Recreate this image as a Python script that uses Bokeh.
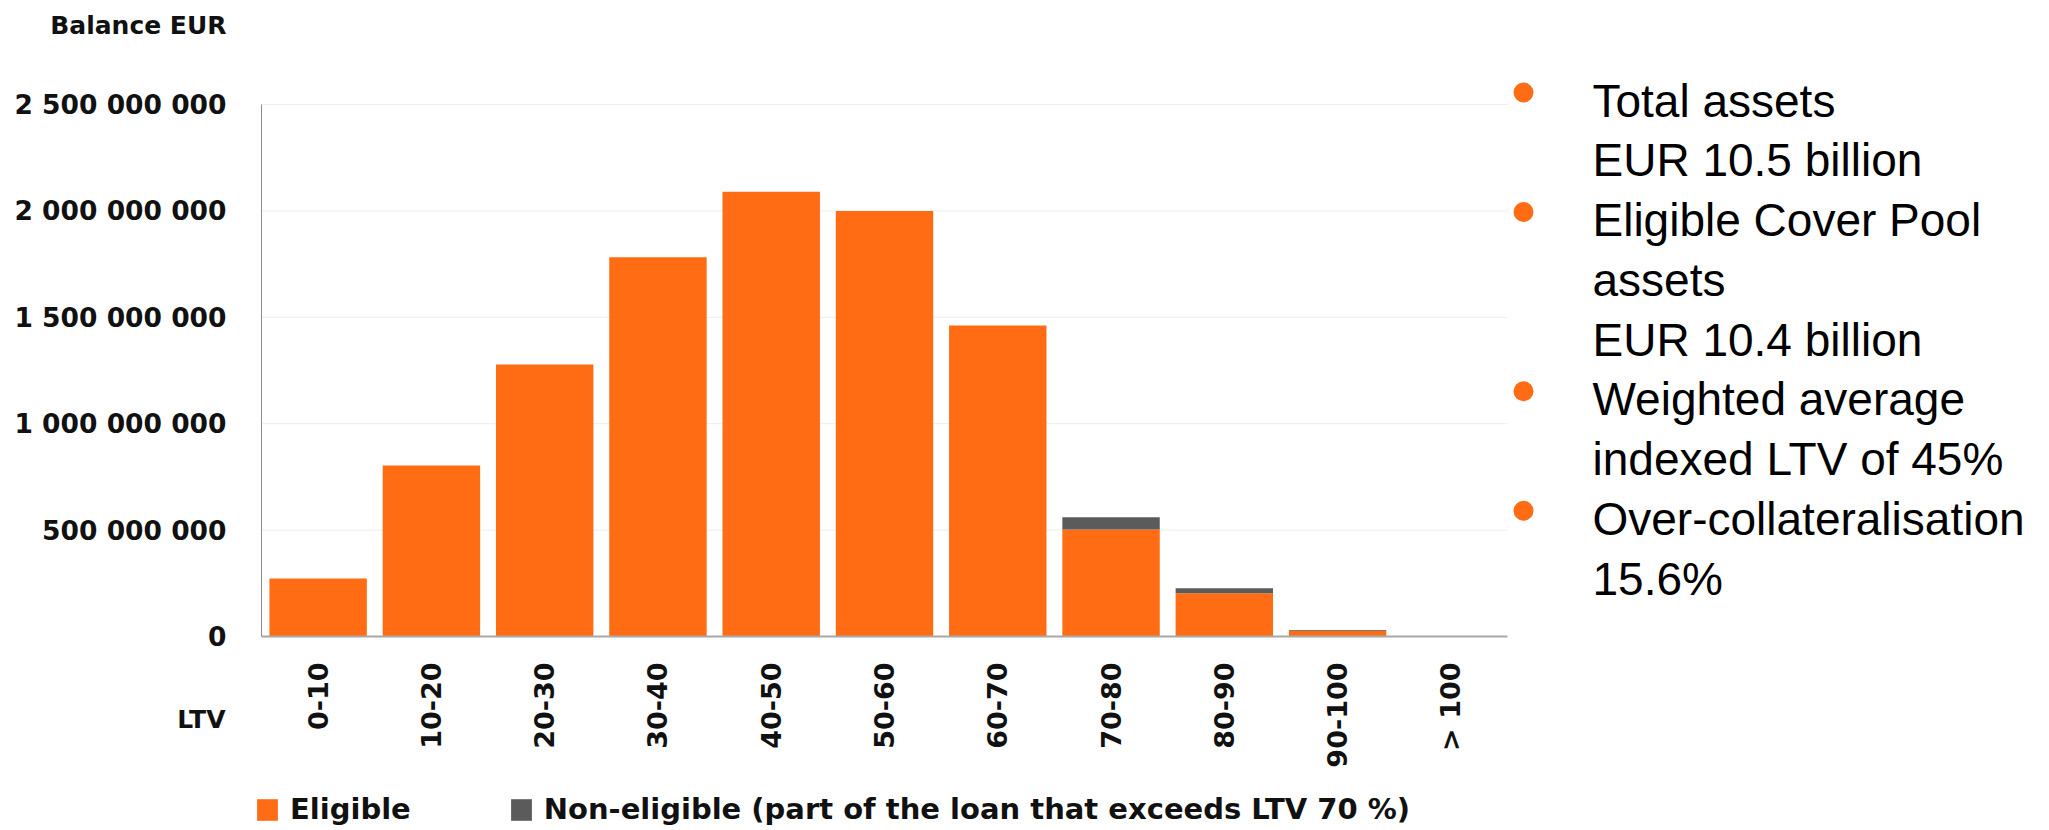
import math
from bokeh.plotting import figure
from bokeh.models import (ColumnDataSource, Range1d, FixedTicker, LinearAxis,
                          Legend, LegendItem)
from bokeh.embed import file_html
from bokeh.resources import INLINE
from bokeh.core.properties import value

# ---------------- data ----------------
ltv_bands = ["0-10", "10-20", "20-30", "30-40", "40-50", "50-60",
             "60-70", "70-80", "80-90", "90-100", "> 100"]
eligible = [273e6, 803e6, 1278e6, 1782e6, 2090e6, 2000e6,
            1462e6, 503e6, 203e6, 27e6, 0]
non_eligible = [0, 0, 0, 0, 0, 0, 0, 57e6, 24e6, 3e6, 0]
y_ticks = [0, 500000000, 1000000000, 1500000000, 2000000000, 2500000000]
y_tick_labels = ["0", "500 000 000", "1 000 000 000", "1 500 000 000",
                 "2 000 000 000", "2 500 000 000"]
y_title = "Balance EUR"
x_title = "LTV"
series_names = ["Eligible",
                "Non-eligible (part of the loan that exceeds LTV 70 %)"]
series_colors = ["#FF6C13", "#5B5B5B"]
summary_lines = ["Total assets", "EUR 10.5 billion", "Eligible Cover Pool",
                 "assets", "EUR 10.4 billion", "Weighted average",
                 "indexed LTV of 45%", "Over-collateralisation", "15.6%"]
bullet_lines = [0, 2, 5, 7]

# ---------------- layout constants (canvas pixels) ----------------
W, H = 2040, 828
FL, FR, FT, FB = 261, 1507, 104, 636     # bar-area box inside the canvas
n = len(ltv_bands)
SW = (FR - FL) / n                       # px per category slot
YMAX = y_ticks[-1]
VPP = YMAX / (FB - FT)                   # value per px
AX_FONT = "DejaVu Sans"
TXT = "#111111"
ORANGE = series_colors[0]

p = figure(width=W, height=H, title=None,
           x_range=Range1d(-FL / SW, (W - FL) / SW),
           y_range=Range1d(-(H - FB) * VPP, YMAX + FT * VPP),
           x_axis_location=None, y_axis_location=None,
           output_backend="svg", toolbar_location=None, min_border=0)
p.outline_line_color = None
p.grid.visible = False
p.extra_x_ranges = {"px": Range1d(0, W)}
p.extra_y_ranges = {"px": Range1d(H, 0)}

x_centers = [i + 0.5 for i in range(n)]

# light horizontal grid lines across the bar area only
p.segment(x0=[0] * (len(y_ticks) - 1), x1=[n] * (len(y_ticks) - 1),
          y0=y_ticks[1:], y1=y_ticks[1:], line_color="#EDEDED",
          line_width=1, level="underlay")

src = ColumnDataSource(dict(x=x_centers, eligible=eligible,
                            non_eligible=non_eligible))
rs = p.vbar_stack(["eligible", "non_eligible"], x="x", width=0.86,
                  fill_color=series_colors, line_color=None, source=src)

# y axis
yaxis = LinearAxis(fixed_location=0, bounds=(0, YMAX),
                   ticker=FixedTicker(ticks=y_ticks),
                   major_label_overrides={t: l for t, l in zip(y_ticks, y_tick_labels)},
                   axis_line_color="#8C8C8C", axis_line_width=1,
                   major_tick_out=0, major_tick_in=0,
                   minor_tick_out=0, minor_tick_in=0,
                   major_label_standoff=35,
                   major_label_text_font=AX_FONT,
                   major_label_text_font_style="bold",
                   major_label_text_font_size="26.5px",
                   major_label_text_color=TXT)
p.add_layout(yaxis, "left")

# x axis
xaxis = LinearAxis(fixed_location=0, bounds=(0, n),
                   ticker=FixedTicker(ticks=x_centers),
                   major_label_overrides={c: l for c, l in zip(x_centers, ltv_bands)},
                   axis_line_color="#A8A8A8", axis_line_width=2,
                   major_tick_out=0, major_tick_in=0,
                   minor_tick_out=0, minor_tick_in=0,
                   major_label_standoff=26,
                   major_label_orientation=math.pi / 2,
                   major_label_text_font=AX_FONT,
                   major_label_text_font_style="bold",
                   major_label_text_font_size="27px",
                   major_label_text_color=TXT)
p.add_layout(xaxis, "below")

# axis titles
p.text(x=[FL - 35, FL - 36], y=[25, 719], text=[y_title, x_title],
       x_range_name="px", y_range_name="px",
       text_align="right", text_baseline="middle",
       text_font=value(AX_FONT), text_font_style="bold",
       text_font_size=value("25px"), text_color=TXT)

# legend
legend = Legend(items=[LegendItem(label=series_names[0], renderers=[rs[0]]),
                       LegendItem(label=series_names[1], renderers=[rs[1]])],
                location=(FL - 7, H - 826), orientation="horizontal",
                padding=0, margin=0, spacing=97, label_standoff=10,
                glyph_width=26, glyph_height=27, label_height=27,
                border_line_color=None, background_fill_alpha=0,
                label_text_font=AX_FONT, label_text_font_style="bold",
                label_text_font_size="29px", label_text_color=TXT)
p.add_layout(legend)

# summary text on the right
line_y = [100 + i * 59.75 for i in range(len(summary_lines))]
p.text(x=[1592] * len(summary_lines), y=line_y, text=summary_lines,
       x_range_name="px", y_range_name="px",
       text_font=value("Liberation Sans"), text_font_size=value("46px"),
       text_baseline="middle", text_align="left", text_color="#000000")
p.scatter(x=[1523] * len(bullet_lines), y=[line_y[i] - 8 for i in bullet_lines],
          x_range_name="px", y_range_name="px",
          size=20, marker="circle", fill_color=ORANGE, line_color=None)

open("out.html", "w").write(file_html(p, INLINE))
